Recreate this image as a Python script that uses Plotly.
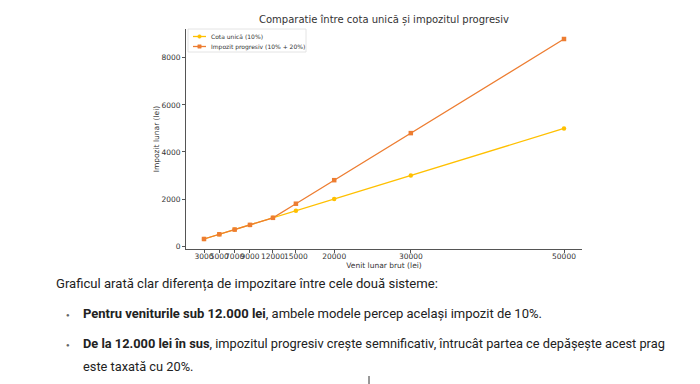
import plotly.graph_objects as go

venit = [3000, 5000, 7000, 9000, 12000, 15000, 20000, 30000, 50000]
cota_unica = [300, 500, 700, 900, 1200, 1500, 2000, 3000, 5000]
progresiv = [300, 500, 700, 900, 1200, 1800, 2800, 4800, 8800]
x_ticks = [3000, 5000, 7000, 9000, 12000, 15000, 20000, 30000, 50000]
y_ticks = [0, 2000, 4000, 6000, 8000]
series_names = ["Cota unică (10%)", "Impozit progresiv (10% + 20%)"]
series_colors = ["#FFC000", "#ED7D31"]
series_symbols = ["circle", "square"]

W, H = 700, 384
L, R, T, B = 186, 582, 29, 249

def px(x):
    return (x - L) / (R - L)

def py(y):
    return (B - y) / (B - T)

fig = go.Figure()
for ys, name, col, sym in zip([cota_unica, progresiv], series_names, series_colors, series_symbols):
    fig.add_trace(go.Scatter(
        x=venit, y=ys, mode="lines+markers", name=name,
        line=dict(color=col, width=1.3),
        marker=dict(symbol=sym, size=4.5, color=col)))

chart_font = "DejaVu Sans"
axis_common = dict(showgrid=False, zeroline=False, showline=True, linecolor="#555",
                   linewidth=1, ticks="outside", ticklen=3, tickcolor="#555",
                   automargin=False,
                   tickfont=dict(family=chart_font, size=7.5, color="#333"))

fig.update_xaxes(range=[650, 52350], tickvals=x_ticks, ticktext=[str(v) for v in x_ticks],
                 tickangle=0, ticklabelstandoff=-3,
                 title=dict(text="Venit lunar brut (lei)", font=dict(family=chart_font, size=7.5, color="#333"), standoff=0),
                 **axis_common)
fig.update_yaxes(range=[-125, 9225], tickvals=y_ticks, ticktext=[str(v) for v in y_ticks],
                 title=dict(text="Impozit lunar (lei)", font=dict(family=chart_font, size=7.5, color="#333"), standoff=0),
                 **axis_common)

body_font = "Roboto"
annotations = [
    dict(text="Comparatie între cota unică și impozitul progresiv", x=px(384), y=py(20),
         xanchor="center", yanchor="middle", font=dict(family=chart_font, size=10, color="#333")),
    dict(text="Graficul arată clar diferența de impozitare între cele două sisteme:", x=px(54), y=py(284),
         xanchor="left", yanchor="middle", font=dict(family=body_font, size=13.1, color="#222")),
    dict(text="●", x=px(64), y=py(314), xanchor="left", yanchor="middle",
         font=dict(family=body_font, size=6, color="#666")),
    dict(text="<b>Pentru veniturile sub 12.000 lei</b>, ambele modele percep același impozit de 10%.",
         x=px(81), y=py(314), xanchor="left", yanchor="middle", font=dict(family=body_font, size=13, color="#222")),
    dict(text="●", x=px(64), y=py(344), xanchor="left", yanchor="middle",
         font=dict(family=body_font, size=6, color="#666")),
    dict(text="<b>De la 12.000 lei în sus</b>, impozitul progresiv crește semnificativ, întrucât partea ce depășește acest prag",
         x=px(81), y=py(344), xanchor="left", yanchor="middle", font=dict(family=body_font, size=12.8, color="#222")),
    dict(text="este taxată cu 20%.", x=px(81), y=py(366), xanchor="left", yanchor="middle",
         font=dict(family=body_font, size=12.8, color="#222")),
]

# compact legend (matplotlib-like)
shapes = [dict(type="rect", xref="paper", yref="paper", x0=px(188), x1=px(306), y0=py(52), y1=py(29),
               line=dict(color="#dddddd", width=0.8), fillcolor="rgba(255,255,255,0.9)", layer="above")]
for i, (name, col, sym) in enumerate(zip(series_names, series_colors, series_symbols)):
    yc = 36.5 + 10 * i
    shapes.append(dict(type="line", xref="paper", yref="paper", x0=px(193), x1=px(206),
                       y0=py(yc), y1=py(yc), line=dict(color=col, width=1.3), layer="above"))
    if sym == "circle":
        shapes.append(dict(type="circle", xref="paper", yref="paper", x0=px(197.7), x1=px(201.3),
                           y0=py(yc + 1.8), y1=py(yc - 1.8), line=dict(color=col, width=0.5),
                           fillcolor=col, layer="above"))
    else:
        shapes.append(dict(type="rect", xref="paper", yref="paper", x0=px(197.8), x1=px(201.2),
                           y0=py(yc + 1.7), y1=py(yc - 1.7), line=dict(color=col, width=0.5),
                           fillcolor=col, layer="above"))
    annotations.append(dict(text=name, x=px(209), y=py(yc), xanchor="left", yanchor="middle",
                            font=dict(family=chart_font, size=6, color="#333")))

shapes.append(dict(type="line", xref="paper", yref="paper", x0=px(369), x1=px(369),
                   y0=py(376), y1=py(384), line=dict(color="#333", width=1)))

for a in annotations:
    a.update(xref="paper", yref="paper", showarrow=False)

fig.update_layout(
    width=W, height=H,
    margin=dict(l=L, r=W - R, t=T, b=H - B, pad=0, autoexpand=False),
    paper_bgcolor="white", plot_bgcolor="white",
    showlegend=False,
    annotations=annotations,
    shapes=shapes,
)

fig.write_html("out.html", config={"displayModeBar": False},
               post_script="document.body.style.margin='0';document.body.style.padding='0';")
